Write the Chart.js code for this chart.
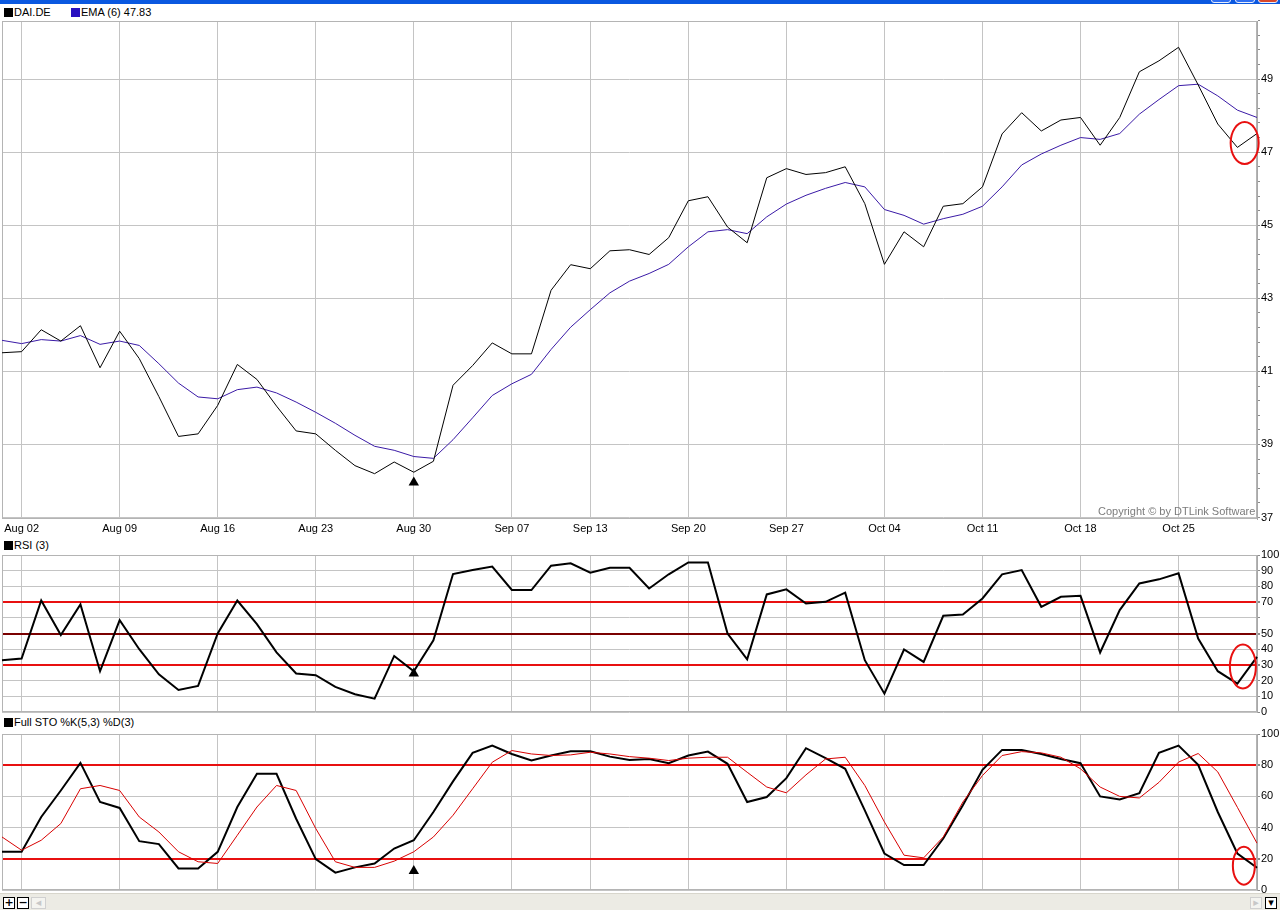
<!DOCTYPE html>
<html>
<head>
<meta charset="utf-8">
<title>DAI.DE</title>
<script src="https://cdn.jsdelivr.net/npm/chart.js@4.4.1/dist/chart.umd.min.js"></script>
<style>
  html, body { margin: 0; padding: 0; background: #fff; }
  body {
    width: 1280px; height: 910px; position: relative; overflow: hidden;
    font-family: "Liberation Sans", Arial, sans-serif; font-size: 11px; color: #000;
  }
  canvas { position: absolute; left: 0; }
  .titlebar { position: absolute; left: 0; top: 0; width: 1280px; height: 4px; background: #0a58e0; overflow: hidden; }
  .winbtn { position: absolute; top: -12px; width: 18px; height: 13px; border: 1px solid #e8eefc; border-radius: 3px; background: #2f6ff2; }
  .legend { position: absolute; left: 4px; height: 13px; line-height: 13px; white-space: nowrap; }
  .sw { display: inline-block; width: 9px; height: 9px; vertical-align: -1px; margin-right: 1px; }
  .copyright { position: absolute; left: 1098px; top: 505px; color: #7c7c7c; white-space: nowrap; }
  .scrollbar { position: absolute; left: 0; top: 893px; width: 1280px; height: 17px; background: #ecebe4; border-top: 1px solid #d8d6cc; }
  .sbtn { position: absolute; top: 3px; width: 10px; height: 10px; border: 1px solid #000; background: #fff; font: bold 11px/10px "DejaVu Sans", sans-serif; text-align: center; }
  .sbtn.off { border-color: #d0d0d0; color: #c8c8c8; background: #f4f4f0; }
</style>
</head>
<body>

<div class="titlebar">
  <div class="winbtn" style="left:1211px"></div>
  <div class="winbtn" style="left:1235px"></div>
  <div class="winbtn" style="left:1258px; background:#d9472b"></div>
</div>

<div class="legend" style="top:6px"><span class="sw" style="background:#000"></span>DAI.DE</div>
<div class="legend" style="top:6px; left:71px"><span class="sw" style="background:#2810c0"></span>EMA (6) 47.83</div>
<div class="legend" style="top:539px"><span class="sw" style="background:#000"></span>RSI (3)</div>
<div class="legend" style="top:716px"><span class="sw" style="background:#000"></span>Full STO %K(5,3) %D(3)</div>

<canvas id="priceChart" width="1280" height="520" style="top:20px"></canvas>
<canvas id="rsiChart" width="1280" height="172" style="top:548px"></canvas>
<canvas id="stoChart" width="1280" height="172" style="top:726px"></canvas>

<div class="copyright">Copyright © by DTLink Software</div>

<div class="scrollbar">
  <div class="sbtn" style="left:3px">+</div>
  <div class="sbtn" style="left:17px">−</div>
  <div class="sbtn off" style="left:31px; width:13px">◂</div>
  <div class="sbtn off" style="left:1250px">▸</div>
  <div class="sbtn" style="left:1265px">▾</div>
</div>

<script>
// --- 1. DATA ---
const dates = [
  'Jul 30',
  'Aug 02', 'Aug 03', 'Aug 04', 'Aug 05', 'Aug 06',
  'Aug 09', 'Aug 10', 'Aug 11', 'Aug 12', 'Aug 13',
  'Aug 16', 'Aug 17', 'Aug 18', 'Aug 19', 'Aug 20',
  'Aug 23', 'Aug 24', 'Aug 25', 'Aug 26', 'Aug 27',
  'Aug 30', 'Aug 31', 'Sep 01', 'Sep 02', 'Sep 03',
  'Sep 07', 'Sep 08', 'Sep 09', 'Sep 10',
  'Sep 13', 'Sep 14', 'Sep 15', 'Sep 16', 'Sep 17',
  'Sep 20', 'Sep 21', 'Sep 22', 'Sep 23', 'Sep 24',
  'Sep 27', 'Sep 28', 'Sep 29', 'Sep 30', 'Oct 01',
  'Oct 04', 'Oct 05', 'Oct 06', 'Oct 07', 'Oct 08',
  'Oct 11', 'Oct 12', 'Oct 13', 'Oct 14', 'Oct 15',
  'Oct 18', 'Oct 19', 'Oct 20', 'Oct 21', 'Oct 22',
  'Oct 25', 'Oct 26', 'Oct 27', 'Oct 28', 'Oct 29'
];

// dates that get a grid line and a label on the x axis
const weekStarts = ['Aug 02', 'Aug 09', 'Aug 16', 'Aug 23', 'Aug 30', 'Sep 07', 'Sep 13',
                    'Sep 20', 'Sep 27', 'Oct 04', 'Oct 11', 'Oct 18', 'Oct 25'];

const closePrice = [
  41.51, 41.54, 42.14, 41.83, 42.25, 41.10, 42.10, 41.35, 40.31, 39.22,
  39.29, 40.07, 41.19, 40.78, 40.05, 39.37, 39.29, 38.84, 38.42, 38.20,
  38.52, 38.24, 38.54, 40.62, 41.16, 41.78, 41.48, 41.48, 43.22, 43.92,
  43.81, 44.30, 44.33, 44.20, 44.66, 45.67, 45.78, 44.95, 44.52, 46.30,
  46.55, 46.39, 46.44, 46.60, 45.59, 43.93, 44.82, 44.41, 45.52, 45.59,
  46.05, 47.50, 48.08, 47.58, 47.88, 47.95, 47.19, 47.95, 49.20, 49.50,
  49.87, 48.84, 47.77, 47.13, 47.51
];

const ema6 = [
  41.85, 41.76, 41.87, 41.83, 41.98, 41.74, 41.83, 41.71, 41.21, 40.68,
  40.30, 40.25, 40.50, 40.57, 40.41, 40.16, 39.88, 39.58, 39.25, 38.95,
  38.84, 38.67, 38.62, 39.13, 39.73, 40.34, 40.66, 40.92, 41.60, 42.21,
  42.69, 43.15, 43.47, 43.68, 43.93, 44.41, 44.82, 44.88, 44.77, 45.23,
  45.58, 45.82, 46.01, 46.17, 46.05, 45.43, 45.27, 45.03, 45.18, 45.30,
  45.52, 46.05, 46.65, 46.95, 47.19, 47.40, 47.35, 47.51, 48.04, 48.44,
  48.82, 48.86, 48.54, 48.15, 47.95
];

const rsi3 = [
  33, 34, 71, 49, 68.5, 26, 58.5, 40, 24, 14,
  16.6, 50, 71, 56, 38, 24.5, 23.4, 16, 11.3, 8.5,
  35.7, 26, 45.7, 87.9, 90.4, 92.6, 77.7, 77.7, 93.2, 94.7,
  88.7, 91.9, 91.9, 78.7, 87.7, 95.3, 95.3, 50, 33.6, 74.9,
  78.1, 69.1, 70.2, 76, 33, 11.7, 39.8, 31.9, 61.3, 62.1,
  72.3, 87.7, 90.4, 67, 73.4, 74, 37.9, 64.9, 81.9, 84.5,
  88.3, 46.8, 26, 18.1, 35.1
];

const stoK = [
  24.5, 24.5, 46.8, 63.8, 81.5, 56.4, 52.6, 31.3, 29.4, 13.8,
  13.8, 24.5, 53.2, 74.5, 74.5, 45.7, 19.8, 11.1, 14.5, 17,
  26.6, 31.9, 50, 69.6, 87.9, 92.6, 87.2, 83, 86.2, 88.9,
  88.9, 85.5, 83.4, 84, 81.3, 86.2, 88.7, 80.9, 56.4, 59.6,
  71.7, 90.9, 84.5, 77.7, 51, 23.4, 16, 16, 33, 54.3,
  77, 89.8, 89.8, 87.2, 84, 81.3, 60, 58, 62, 87.9,
  92.6, 80.2, 50, 23.4, 14.3
];

const stoD = [
  34, 25.5, 31.9, 42.6, 64.9, 67, 63.8, 46.8, 37.2, 24.5,
  18.1, 17, 35.1, 53.2, 67, 63.8, 39.4, 18.1, 14.5, 14.5,
  18.5, 24.5, 34, 47.9, 64.9, 81.9, 89.4, 87.2, 86.2, 86.6,
  88.3, 87.2, 85.5, 84.5, 83, 84.5, 85.1, 85.1, 75.5, 66,
  62.3, 73.8, 84, 85.1, 67, 43.6, 22.3, 20.6, 34, 56.4,
  73.4, 86.2, 88.7, 87.9, 85.1, 77.7, 66, 60, 59, 69,
  82, 87.5, 75.7, 53, 30
];

// axis ticks
const priceTickLabels = [37, 39, 41, 43, 45, 47, 49];
const priceMinorStep = 0.4;
const rsiTickLabels = [0, 10, 20, 30, 40, 50, 70, 80, 90, 100];
const stoTickLabels = [0, 20, 40, 60, 80, 100];

// buy signal (triangle) and the red rings at the last bars
const signalDate = 'Aug 30';
const signalLevel = { price: 37.96, rsi: 24.5, sto: 12.1 };
const ringIndex = [63.37, 63.28, 63.33];
const ringLevel = { price: 47.25, rsi: 29, sto: 15.6 };


// --- 2. SHARED STYLE ---
const FONT = '"Liberation Sans", Arial, sans-serif';
const GRID = '#c4c4c4';
const RED = '#e81010';
const CLEAR = 'rgba(0,0,0,0)';
const PLOT_LEFT = 2;
const AXIS_WIDTH = 23;

const signalData = level => dates.map(d => (d === signalDate ? level : null));

// drop the room chart.js keeps for half a tick label at the ends
function noEdgePadding(s) {
  s.paddingTop = 0;
  s.paddingBottom = 0;
  s.paddingLeft = 0;
  s.paddingRight = 0;
}

function xAxis(showLabels) {
  return {
    type: 'category',
    offset: false,
    border: { display: false },
    grid: {
      drawTicks: false,
      color: ctx => (weekStarts.includes(dates[ctx.index]) ? GRID : CLEAR)
    },
    ticks: {
      display: showLabels,
      autoSkip: false,
      maxRotation: 0,
      padding: 3,
      color: '#000',
      font: { family: FONT, size: 11 },
      callback: (v, i) => (weekStarts.includes(dates[i]) ? dates[i] : '')
    },
    afterFit: s => {
      s.height = showLabels ? 21 : 0;
      noEdgePadding(s);
    }
  };
}

function yAxis(extra) {
  return Object.assign({
    position: 'right',
    border: { display: true, color: '#a8a8a8' },
    afterFit: s => {
      s.width = AXIS_WIDTH;
      noEdgePadding(s);
    }
  }, extra);
}

// thin gray frame around each plot area
const frameBorder = {
  id: 'frameBorder',
  beforeDatasetsDraw(chart) {
    const { ctx, chartArea: a } = chart;
    ctx.save();
    ctx.strokeStyle = '#b4b4b4';
    ctx.lineWidth = 1;
    ctx.strokeRect(a.left + 0.5, a.top + 0.5, a.right - a.left - 1, a.bottom - a.top - 1);
    ctx.restore();
  }
};

// hand drawn red ellipse around the last bars
const redRing = {
  id: 'redRing',
  afterDatasetsDraw(chart, args, opts) {
    if (!opts || opts.index == null) return;
    const { ctx, scales } = chart;
    const cx = scales.x.getPixelForValue(opts.index);
    const cy = scales.y.getPixelForValue(opts.level);
    ctx.save();
    ctx.strokeStyle = RED;
    ctx.lineWidth = 2;
    ctx.beginPath();
    ctx.ellipse(cx, cy, opts.rx, opts.ry, 0, 0, Math.PI * 2);
    ctx.stroke();
    ctx.restore();
  }
};

function baseOptions(top, bottom, ring) {
  return {
    responsive: false,
    animation: false,
    devicePixelRatio: 1,
    events: [],
    layout: { autoPadding: false, padding: { left: PLOT_LEFT, right: 0, top: top, bottom: bottom } },
    plugins: {
      legend: { display: false },
      tooltip: { enabled: false },
      redRing: ring
    },
    elements: { point: { radius: 0 }, line: { tension: 0 } }
  };
}

function triangleSet(level) {
  return {
    data: signalData(level),
    showLine: false,
    pointStyle: 'triangle',
    pointRadius: 6,
    pointBackgroundColor: '#000',
    pointBorderColor: '#000',
    pointBorderWidth: 0
  };
}

function valueTicks(stepSize, labels) {
  return {
    stepSize: stepSize,
    padding: 1,
    color: '#000',
    font: { family: FONT, size: 11 },
    autoSkip: false,
    callback: v => (labels.includes(v) ? String(v) : '')
  };
}


// --- 3. PRICE PANEL ---
const priceTicks = [];
for (let v = priceTickLabels[0]; v <= 50.6; v += priceMinorStep) {
  priceTicks.push(Math.round(v * 10) / 10);
}
const isPriceLabel = v => priceTickLabels.includes(Math.round(v * 10) / 10);

const priceOptions = baseOptions(1, 0, { index: ringIndex[0], level: ringLevel.price, rx: 14, ry: 21 });
priceOptions.scales = {
  x: xAxis(true),
  y: yAxis({
    min: 36.96,
    max: 50.59,
    afterBuildTicks: s => { s.ticks = priceTicks.map(v => ({ value: v })); },
    grid: {
      tickLength: 3,
      tickColor: '#8a8a8a',
      color: ctx => (ctx.tick && isPriceLabel(ctx.tick.value) ? GRID : CLEAR)
    },
    ticks: {
      padding: 1,
      color: '#000',
      font: { family: FONT, size: 11 },
      autoSkip: false,
      callback: v => (isPriceLabel(v) ? String(Math.round(v)) : '')
    }
  })
};

new Chart(document.getElementById('priceChart'), {
  type: 'line',
  data: {
    labels: dates,
    datasets: [
      { data: closePrice, borderColor: '#000', borderWidth: 1 },
      { data: ema6, borderColor: '#3a1aa6', borderWidth: 1 },
      triangleSet(signalLevel.price)
    ]
  },
  options: priceOptions,
  plugins: [frameBorder, redRing]
});


// --- 4. RSI PANEL ---
const rsiLineColor = v => (v === 30 || v === 70 ? RED : v === 50 ? '#7a0000' : GRID);

const rsiOptions = baseOptions(7, 8, { index: ringIndex[1], level: ringLevel.rsi, rx: 13, ry: 22 });
rsiOptions.scales = {
  x: xAxis(false),
  y: yAxis({
    min: 0,
    max: 100,
    grid: {
      tickLength: 3,
      tickColor: '#8a8a8a',
      color: ctx => (ctx.tick ? rsiLineColor(ctx.tick.value) : GRID),
      lineWidth: ctx => (ctx.tick && [30, 50, 70].includes(ctx.tick.value) ? 2 : 1)
    },
    ticks: valueTicks(10, rsiTickLabels)
  })
};

new Chart(document.getElementById('rsiChart'), {
  type: 'line',
  data: {
    labels: dates,
    datasets: [
      { data: rsi3, borderColor: '#000', borderWidth: 2 },
      triangleSet(signalLevel.rsi)
    ]
  },
  options: rsiOptions,
  plugins: [frameBorder, redRing]
});


// --- 5. FULL STOCHASTIC PANEL ---
const isStoBand = v => v === 20 || v === 80;

const stoOptions = baseOptions(8, 8, { index: ringIndex[2], level: ringLevel.sto, rx: 11, ry: 19 });
stoOptions.scales = {
  x: xAxis(false),
  y: yAxis({
    min: 0,
    max: 100,
    grid: {
      tickLength: 3,
      tickColor: '#8a8a8a',
      color: ctx => (ctx.tick && isStoBand(ctx.tick.value) ? RED : GRID),
      lineWidth: ctx => (ctx.tick && isStoBand(ctx.tick.value) ? 2 : 1)
    },
    ticks: valueTicks(20, stoTickLabels)
  })
};

new Chart(document.getElementById('stoChart'), {
  type: 'line',
  data: {
    labels: dates,
    datasets: [
      { data: stoD, borderColor: '#d80000', borderWidth: 1 },
      { data: stoK, borderColor: '#000', borderWidth: 2 },
      triangleSet(signalLevel.sto)
    ]
  },
  options: stoOptions,
  plugins: [frameBorder, redRing]
});
</script>
</body>
</html>
